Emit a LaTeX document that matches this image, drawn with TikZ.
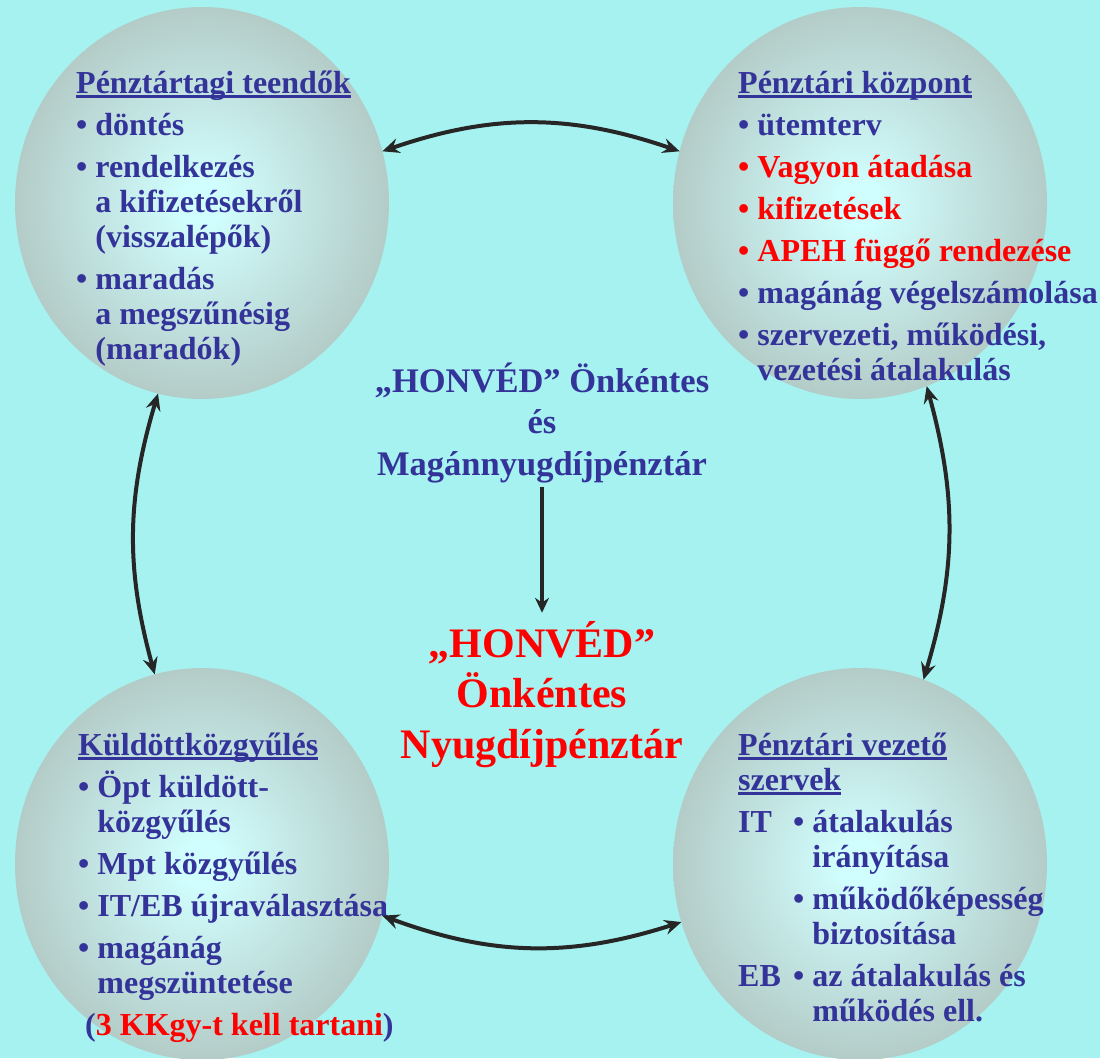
\documentclass[tikz,border=0pt]{standalone}
\usepackage{fontspec}
\setmainfont{Liberation Serif}
\usetikzlibrary{shapes.geometric,arrows.meta}
\definecolor{ublue}{RGB}{51,51,153}
\definecolor{ured}{RGB}{255,0,0}
\definecolor{bgc}{RGB}{165,242,240}
\definecolor{ballc}{RGB}{208,253,253}
\definecolor{balle}{RGB}{163,175,168}
\definecolor{arrc}{RGB}{38,38,38}
\pgfdeclareradialshading{ballsh}{\pgfpoint{0bp}{0bp}}{color(0bp)=(ballc); color(3bp)=(ballc); color(38bp)=(balle); color(50bp)=(balle)}
\newcommand\myul[1]{\setbox0=\hbox{#1}\rlap{\rule[-5pt]{\wd0}{2.6pt}}\box0}
\newcommand\ind{\phantom{• }}
\newcommand\gap{\vskip7pt}
\newcommand\cl[1]{\hbox to 500pt{\hfil#1\hfil}}
\begin{document}
\begin{tikzpicture}[x=1pt,y=1pt,
  ball/.style={ellipse, shade, shading=ballsh, draw=none, minimum width=374pt, minimum height=392pt, inner sep=0pt, outer sep=0pt},
  txt/.style={anchor=base west, inner sep=0pt, text=ublue, font=\fontsize{32}{35}\selectfont\bfseries},
  ctr/.style={anchor=base, inner sep=0pt},
  arr/.style={draw=arrc, line width=4pt, {Stealth[length=17pt,width=15pt,inset=6pt]}-{Stealth[length=17pt,width=15pt,inset=6pt]}},
  varr/.style={draw=arrc, line width=3.5pt, -{Stealth[length=15pt,width=14pt,inset=5pt]}}
]
\useasboundingbox (0,0) rectangle (1100,-1058);
\fill[bgc] (0,0) rectangle (1100,-1058);

\node[ball] (tl) at (202,-203) {};
\node[ball] (tr) at (860,-203) {};
\node[ball] (bl) at (202,-864) {};
\node[ball] (br) at (860,-864) {};

\node[txt] (tltxt) at (76,-93) {\vtop{\baselineskip=35pt\lineskiplimit=-100pt\lineskip=0pt
\hbox{\myul{Pénztártagi teendők}}
\gap\hbox{• döntés}
\gap\hbox{• rendelkezés}
\hbox{\ind a kifizetésekről}
\hbox{\ind (visszalépők)}
\gap\hbox{• maradás}
\hbox{\ind a megszűnésig}
\hbox{\ind (maradók)}}};

\node[txt] (trtxt) at (738,-93) {\vtop{\baselineskip=35pt\lineskiplimit=-100pt\lineskip=0pt
\hbox{\myul{Pénztári központ}}
\gap\hbox{• ütemterv}
\gap\hbox{\color{ured}• Vagyon átadása}
\gap\hbox{\color{ured}• kifizetések}
\gap\hbox{\color{ured}• APEH függő rendezése}
\gap\hbox{• magánág végelszámolása}
\gap\hbox{• szervezeti, működési,}
\hbox{\ind vezetési átalakulás}}};

\node[txt] (bltxt) at (78,-755) {\vtop{\baselineskip=35pt\lineskiplimit=-100pt\lineskip=0pt
\hbox{\myul{Küldöttközgyűlés}}
\gap\hbox{• Öpt küldött-}
\hbox{\ind közgyűlés}
\gap\hbox{• Mpt közgyűlés}
\gap\hbox{• IT/EB újraválasztása}
\gap\hbox{• magánág}
\hbox{\ind megszüntetése}
\gap\hbox{\hspace{7pt}({\color{ured}3 KKgy-t kell tartani})}}};

\node[txt] (brtxt) at (738,-755) {\vtop{\baselineskip=35pt\lineskiplimit=-100pt\lineskip=0pt
\hbox{\myul{Pénztári vezető}}
\hbox{\myul{szervek}}
\gap\hbox{\makebox[55pt][l]{IT}• átalakulás}
\hbox{\hspace{55pt}\ind irányítása}
\gap\hbox{\hspace{55pt}• működőképesség}
\hbox{\hspace{55pt}\ind biztosítása}
\gap\hbox{\makebox[55pt][l]{EB}• az átalakulás és}
\hbox{\hspace{55pt}\ind működés ell.}}};

\node[ctr, text=ublue, font=\fontsize{34.5}{41.5}\selectfont\bfseries] (old) at (542,-392) {\vtop{\baselineskip=41.5pt\lineskiplimit=-100pt\lineskip=0pt
\cl{„HONVÉD” Önkéntes}
\cl{és}
\cl{Magánnyugdíjpénztár}}};

\node[ctr, text=ured, font=\fontsize{42}{50.5}\selectfont\bfseries] (new) at (542,-657) {\vtop{\baselineskip=50.5pt\lineskiplimit=-100pt\lineskip=0pt
\cl{„HONVÉD”}
\cl{Önkéntes}
\cl{Nyugdíjpénztár}}};

\draw[varr, shorten <=4pt, shorten >=8pt] (old.south) -- (new.north);

\draw[arr] (tl.16) to[bend left=19] (tr.164);
\draw[arr] (tl.-103) to[bend right=16] (bl.104);
\draw[arr] (tr.-70) to[bend left=16] (br.71);
\draw[arr] (bl.-16) to[bend right=19] (br.198);
\end{tikzpicture}
\end{document}
